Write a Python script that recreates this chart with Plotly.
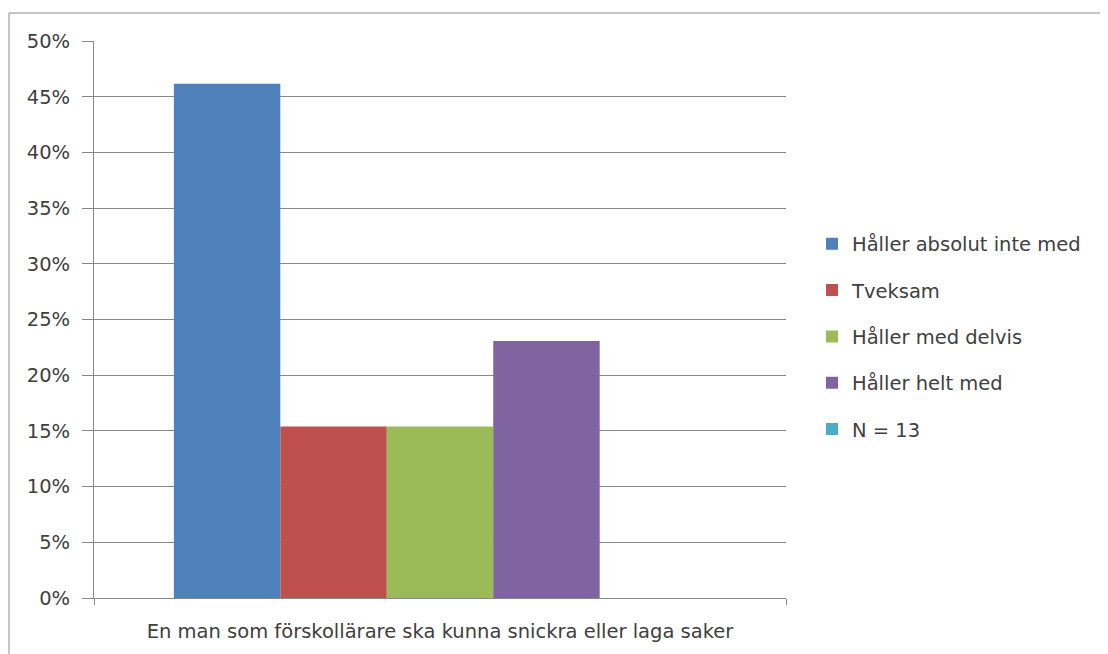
import plotly.graph_objects as go

categories = ["En man som förskollärare ska kunna snickra eller laga saker"]
series_names = ["Håller absolut inte med", "Tveksam", "Håller med delvis", "Håller helt med", "N = 13"]
series_values = [[6/13], [2/13], [2/13], [3/13], [0.0]]
colors = ["#4F81BD", "#C0504D", "#9BBB59", "#8064A2", "#4BACC6"]
y_tick_vals = [0, 0.05, 0.10, 0.15, 0.20, 0.25, 0.30, 0.35, 0.40, 0.45, 0.50]

OFF = 8  # page body margin
W, H = 1108 - OFF, 654 - OFF
L, R, T, B = 94 - OFF, 786 - OFF, 41 - OFF, 598 - OFF

fig = go.Figure()
for i, (name, vals, col) in enumerate(zip(series_names, series_values, colors)):
    fig.add_trace(go.Bar(
        x=categories, y=vals, name=name,
        marker=dict(color=col, line=dict(width=0)),
        legendgroup=f"g{i}",
    ))

font_family = "DejaVu Sans, sans-serif"
txt = "#404040"
grid = "#878787"
FS = 19.5

fig.update_layout(
    width=W, height=H,
    margin=dict(l=L, r=W - R, t=T, b=H - B, pad=0),
    paper_bgcolor="white", plot_bgcolor="white",
    barmode="group", bargap=1.5 / 6.5, bargroupgap=0,
    font=dict(family=font_family, size=FS, color=txt),
    showlegend=True,
    legend=dict(
        x=(812 - OFF - L) / (R - L), xanchor="left",
        y=(B - (336.5 - OFF)) / (B - T), yanchor="middle",
        font=dict(size=FS, color=txt),
        tracegroupgap=18, itemwidth=30,
        traceorder="grouped",
        bgcolor="rgba(0,0,0,0)",
    ),
    xaxis=dict(
        type="category", range=[-0.5, 0.5],
        showline=True, linecolor=grid, linewidth=1,
        ticks="outside", tickson="boundaries", ticklen=6, tickcolor=grid,
        showgrid=False, tickfont=dict(size=FS, color=txt),
        ticklabelstandoff=16,
    ),
    yaxis=dict(
        range=[0, 0.5], tickvals=y_tick_vals, tickformat=".0%",
        showline=True, linecolor=grid, linewidth=1,
        ticks="outside", ticklen=11, tickcolor=grid,
        showgrid=True, gridcolor=grid, gridwidth=1,
        zeroline=False, tickfont=dict(size=FS, color=txt),
        ticklabelstandoff=8,
    ),
)

# outer chart border (extends beyond the visible frame on right/bottom)
fig.add_shape(
    type="rect", xref="paper", yref="paper",
    x0=(9 - OFF - L) / (R - L), x1=(W + 5 - L) / (R - L),
    y0=(B - (H + 5)) / (B - T), y1=(B - (13 - OFF)) / (B - T),
    line=dict(color="#8a8a8a", width=1), fillcolor="rgba(0,0,0,0)",
    layer="below",
)

fig.write_html("out.html")
